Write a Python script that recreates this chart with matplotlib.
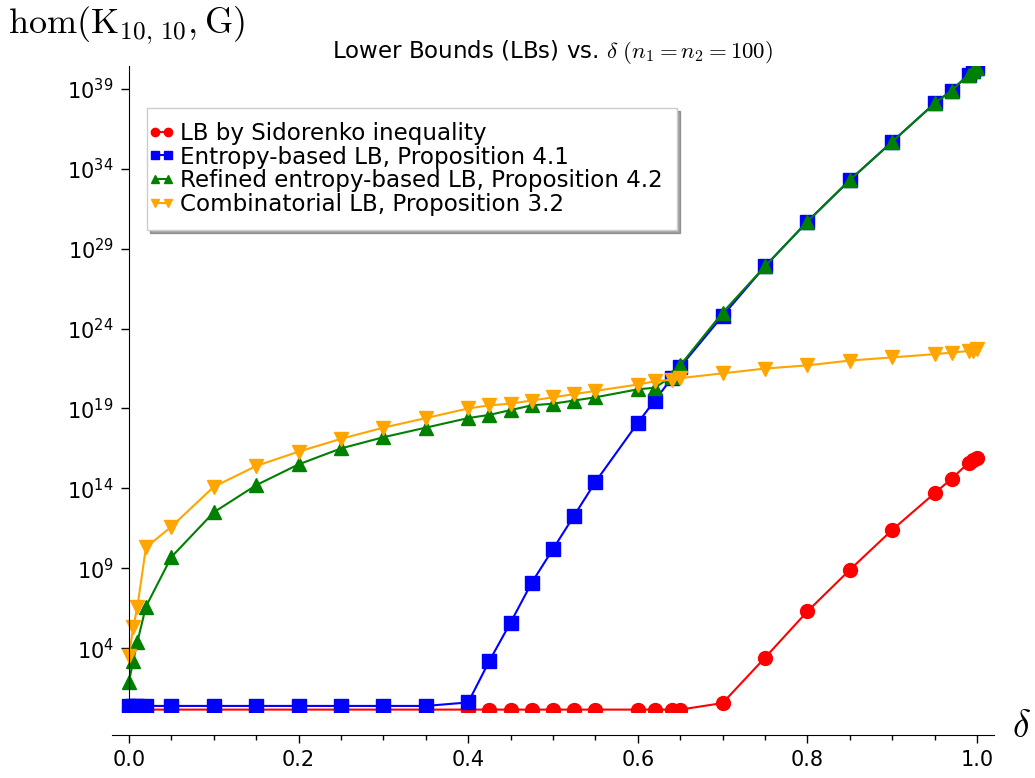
import numpy as np
import matplotlib
matplotlib.use("Agg")
import matplotlib.pyplot as plt

plt.rcParams['mathtext.fontset'] = 'cm'
plt.rcParams['font.family'] = ['DejaVu Sans']

# delta values
x_main = [0.0, 0.005, 0.01, 0.02, 0.05, 0.1, 0.15, 0.2, 0.25, 0.3, 0.35, 0.4,
          0.425, 0.45, 0.475, 0.5, 0.525, 0.55, 0.6, 0.62, 0.64, 0.65,
          0.7, 0.75, 0.8, 0.85, 0.9, 0.95, 0.97, 0.99, 0.995, 1.0]

# log10 of each lower bound
red_log = [0.15, 0.15, 0.15, 0.15, 0.15, 0.15, 0.15, 0.15, 0.15, 0.15, 0.15, 0.15,
           0.15, 0.15, 0.15, 0.15, 0.15, 0.15, 0.15, 0.15, 0.15, 0.15,
           0.56, 3.4, 6.3, 8.9, 11.4, 13.7, 14.6, 15.6, 15.8, 15.9]
blue_log = [0.38, 0.38, 0.38, 0.38, 0.38, 0.38, 0.38, 0.38, 0.38, 0.38, 0.38, 0.6,
            3.2, 5.6, 8.1, 10.2, 12.3, 14.4, 18.1, 19.5, 20.9, 21.6,
            24.8, 27.9, 30.7, 33.3, 35.7, 38.1, 38.9, 39.9, 40.1, 40.3]
green_log = [1.9, 3.2, 4.4, 6.6, 9.7, 12.5, 14.2, 15.5, 16.5, 17.2, 17.8, 18.4,
             18.6, 18.9, 19.2, 19.3, 19.5, 19.7, 20.2, 20.3, 21.0, 21.7,
             25.0, 27.9, 30.7, 33.3, 35.7, 38.1, 38.9, 39.9, 40.1, 40.3]
orange_log = [3.5, 5.3, 6.6, 10.3, 11.6, 14.1, 15.4, 16.3, 17.1, 17.8, 18.4, 19.0,
              19.2, 19.3, 19.5, 19.7, 19.9, 20.1, 20.5, 20.7, 20.8, 20.9,
              21.2, 21.5, 21.7, 22.0, 22.2, 22.4, 22.5, 22.6, 22.6, 22.7]

labels = ["LB by Sidorenko inequality",
          "Entropy-based LB, Proposition 4.1",
          "Refined entropy-based LB, Proposition 4.2",
          "Combinatorial LB, Proposition 3.2"]
colors = ["#ff0000", "#0000ff", "#008000", "#ffa500"]
markers = ["o", "s", "^", "v"]

ytick_exp = [4, 9, 14, 19, 24, 29, 34, 39]
xticks = [0.0, 0.2, 0.4, 0.6, 0.8, 1.0]

W, H = 1035, 778
fig = plt.figure(figsize=(W / 100, H / 100), dpi=100)
fig.subplots_adjust(left=112 / W, right=994 / W, top=1 - 66 / H, bottom=1 - 712 / H)
ax = fig.add_subplot(111)

series = [red_log, blue_log, green_log, orange_log]
for vals, lab, c, m in zip(series, labels, colors, markers):
    y = np.power(10.0, np.array(vals))
    ax.plot(x_main, y, color=c, marker=m, markersize=10, linewidth=1.5, label=lab)

ax.set_yscale('log')
ax.set_xlim(-0.02, 1.02)
ax.set_ylim(1.0, 10 ** 40.44)

ax.spines['top'].set_visible(False)
ax.spines['right'].set_visible(False)
ax.spines['left'].set_position(('data', 0))
ax.spines['bottom'].set_position(('outward', 16.5))

ax.set_yticks([10.0 ** k for k in ytick_exp])
ax.set_yticklabels([r'$\mathregular{10^{%d}}$' % k for k in ytick_exp])
ax.yaxis.set_minor_locator(matplotlib.ticker.NullLocator())
ax.set_xticks(xticks)
ax.set_xticklabels(['%.1f' % v for v in xticks])
ax.set_xticks(np.arange(0, 1.001, 0.05), minor=True)
ax.tick_params(axis='both', which='major', labelsize=15, length=6, width=1, pad=5)
ax.tick_params(axis='x', which='minor', length=3.6, width=1)

ax.set_title(r'Lower Bounds (LBs) vs. $\delta\ (n_1 = n_2 = 100)$', fontsize=16.5, pad=6)

fig.text(8 / W, 1 - 25 / H, r'$\mathrm{hom}(\mathrm{K}_{10,\,10},\mathrm{G})$',
         fontsize=26, ha='left', va='center')
fig.text(1021 / W, 1 - 727 / H, r'$\delta$', fontsize=27, ha='center', va='center')

leg = ax.legend(loc='upper left', bbox_to_anchor=(35 / 882, 1 - 42 / 646),
                fontsize=16.6, numpoints=2, handlelength=0.05, handletextpad=0.8,
                markerscale=0.6, fancybox=False, shadow=True, framealpha=1,
                borderpad=0.6, labelspacing=0.03, borderaxespad=0)
leg.get_frame().set_edgecolor('#cccccc')

fig.savefig('out.png', dpi=100)
